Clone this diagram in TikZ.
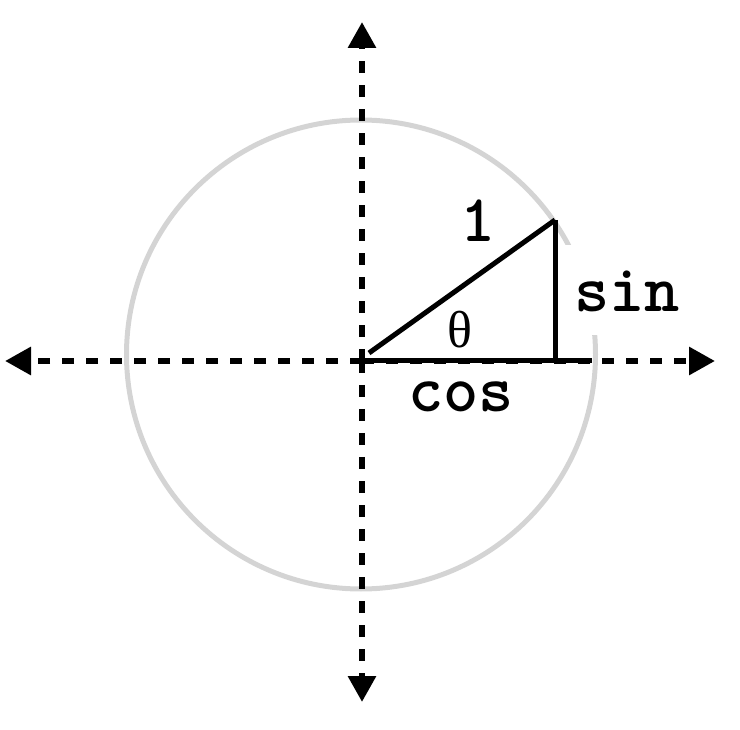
\documentclass[tikz,border=0pt]{standalone}
\usepackage{fontspec}
\newfontfamily\greekfont{Liberation Serif}
\usetikzlibrary{arrows.meta}
\tikzset{
  axis/.style={line width=6pt, dash pattern=on 12pt off 12pt, -{Triangle[width=27pt,length=26pt]}},
  trig/.style={line width=5pt, line cap=butt},
  lbl/.style={anchor=base, inner sep=0pt, font=\fontsize{67}{67}\ttfamily\bfseries},
}
\begin{document}
\begin{tikzpicture}[x=1pt,y=-1pt]
\useasboundingbox (0,0) rectangle (740,730);
% unit circle
\node[circle, draw=black!17, line width=5pt, minimum size=469pt, inner sep=0pt] (circ) at (361,354.5) {};
% white backing of sin label
\fill[white] (562,245) rectangle (690,335);
% axes
\coordinate (c) at (362,361);
\coordinate (xl) at (5,361);
\coordinate (xr) at (715,361);
\coordinate (yt) at (362,22);
\coordinate (yb) at (362,702);
\draw[axis] (c) -- (xl);
\draw[axis] (c) -- (xr);
\draw[axis] (c) -- (yt);
\draw[axis] (c) -- (yb);
% triangle
\coordinate (o) at (369,353);
\coordinate (p) at (555,220);
\coordinate (q) at (555,361);
\coordinate (h0) at (365,361);
\coordinate (h1) at (592,361);
\draw[trig] (o) -- (p);
\draw[trig] (p) -- (q);
\draw[trig] (h0) -- (h1);
% labels
\node[lbl] (one) at (478,242) {1};
\node[lbl] (sin) at (627,312) {sin};
\node[lbl] (cos) at (461,412) {cos};
\node[anchor=base, inner sep=0pt, font=\fontsize{52}{52}\greekfont] (theta) at (460,348) {θ};
\end{tikzpicture}
\end{document}
